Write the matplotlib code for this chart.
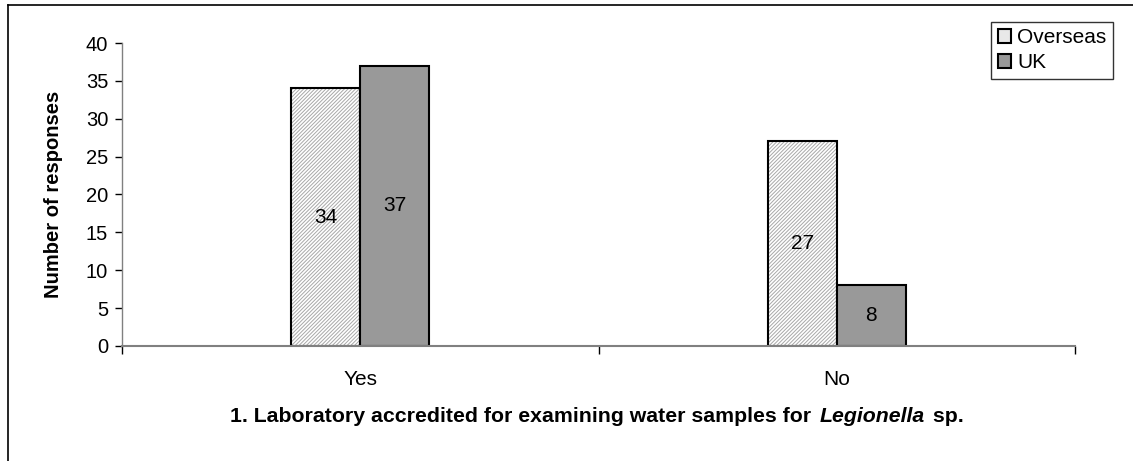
import numpy as np
import matplotlib
matplotlib.use("Agg")
from matplotlib import pyplot as plt
from matplotlib.lines import Line2D
from matplotlib.patches import Patch

plt.rcParams['font.family'] = ['Liberation Sans', 'DejaVu Sans']
plt.rcParams['hatch.linewidth'] = 0.7

# podaci
kategorije = ["Yes", "No"]
serije = ["Overseas", "UK"]
overseas = [34, 27]
uk = [37, 8]

fig = plt.figure(figsize=(11.33, 4.61), dpi=100)
ax = fig.add_axes([0.1077, 0.2495, 0.8411, 0.6572])

x = np.arange(len(kategorije))
w = 0.145

# Overseas - šrafirano
ax.bar(x - w / 2, overseas, w, color="white", edgecolor="#a8a8a8",
       hatch="/////////", linewidth=0)
ax.bar(x - w / 2, overseas, w, fill=False, edgecolor="black", linewidth=1.5)
# UK - sivo
ax.bar(x + w / 2, uk, w, color="#999999", edgecolor="black", linewidth=1.5)

for i in range(len(kategorije)):
    ax.text(x[i] - w / 2, overseas[i] / 2, str(overseas[i]), ha="center",
            va="center", fontsize=15)
    ax.text(x[i] + w / 2, uk[i] / 2, str(uk[i]), ha="center",
            va="center", fontsize=15)

ax.set_xlim(-0.5, len(kategorije) - 0.5)
ax.set_ylim(0, 40)
ax.set_yticks(range(0, 41, 5))
ax.set_xticks([-0.5, 0.5, 1.5], minor=False)
ax.set_xticklabels(["", "", ""])
ax.set_xticks(x, minor=True)
ax.set_xticklabels(kategorije, minor=True, fontsize=15)
ax.tick_params(axis="x", which="minor", length=0, pad=17)
ax.tick_params(axis="x", which="major", length=6, width=1, color="black")
ax.tick_params(axis="y", length=5, width=1, color="black", labelsize=14.5, pad=5)

for s in ["top", "right"]:
    ax.spines[s].set_visible(False)
ax.spines["left"].set_color("#808080")
ax.spines["bottom"].set_color("#808080")
ax.spines["left"].set_linewidth(1.0)
ax.spines["bottom"].set_linewidth(1.5)

ax.set_ylabel("Number of responses", fontsize=14.5, fontweight="bold")
ax.yaxis.set_label_coords(-0.062, 0.5)

# naslov osi x s kurzivom
fs = 15.3
y_lab = 1 - 416 / 461
dijelovi = [("1. Laboratory accredited for examining water samples for ", "normal"),
            ("Legionella", "italic"), (" sp.", "normal")]
teksti = []
for tekst, stil in dijelovi:
    t = fig.text(0, y_lab, tekst, fontsize=fs, fontweight="bold",
                 fontstyle=stil, va="center", ha="left")
    teksti.append(t)
fig.canvas.draw()
r = fig.canvas.get_renderer()
sirine = [t.get_window_extent(r).width for t in teksti]
ukupno = sum(sirine) + 4
x0 = 597 - ukupno / 2
for t, sw in zip(teksti, sirine):
    t.set_x(x0 / 1133)
    x0 += sw + 2

# legenda
ruke = [Patch(facecolor="#e8e8e8", edgecolor="black", linewidth=1.5),
        Patch(facecolor="#999999", edgecolor="black", linewidth=1.5)]
leg = fig.legend(ruke, serije, loc="upper right",
                 bbox_to_anchor=(1113 / 1133, 1 - 22 / 461),
                 fontsize=15, frameon=True, fancybox=False, shadow=False,
                 handlelength=0.65, handleheight=0.65, handletextpad=0.3,
                 borderpad=0.3, labelspacing=0.3, borderaxespad=0)
leg.get_frame().set_edgecolor("black")
leg.get_frame().set_linewidth(1.0)

# okvir slike (lijevo i gore)
fig.add_artist(Line2D([7.5 / 1133, 7.5 / 1133], [0, 1 - 5 / 461],
                      color="black", linewidth=1.2, transform=fig.transFigure))
fig.add_artist(Line2D([7.5 / 1133, 1], [1 - 5 / 461, 1 - 5 / 461],
                      color="black", linewidth=1.2, transform=fig.transFigure))

fig.savefig("out.png", dpi=100)
